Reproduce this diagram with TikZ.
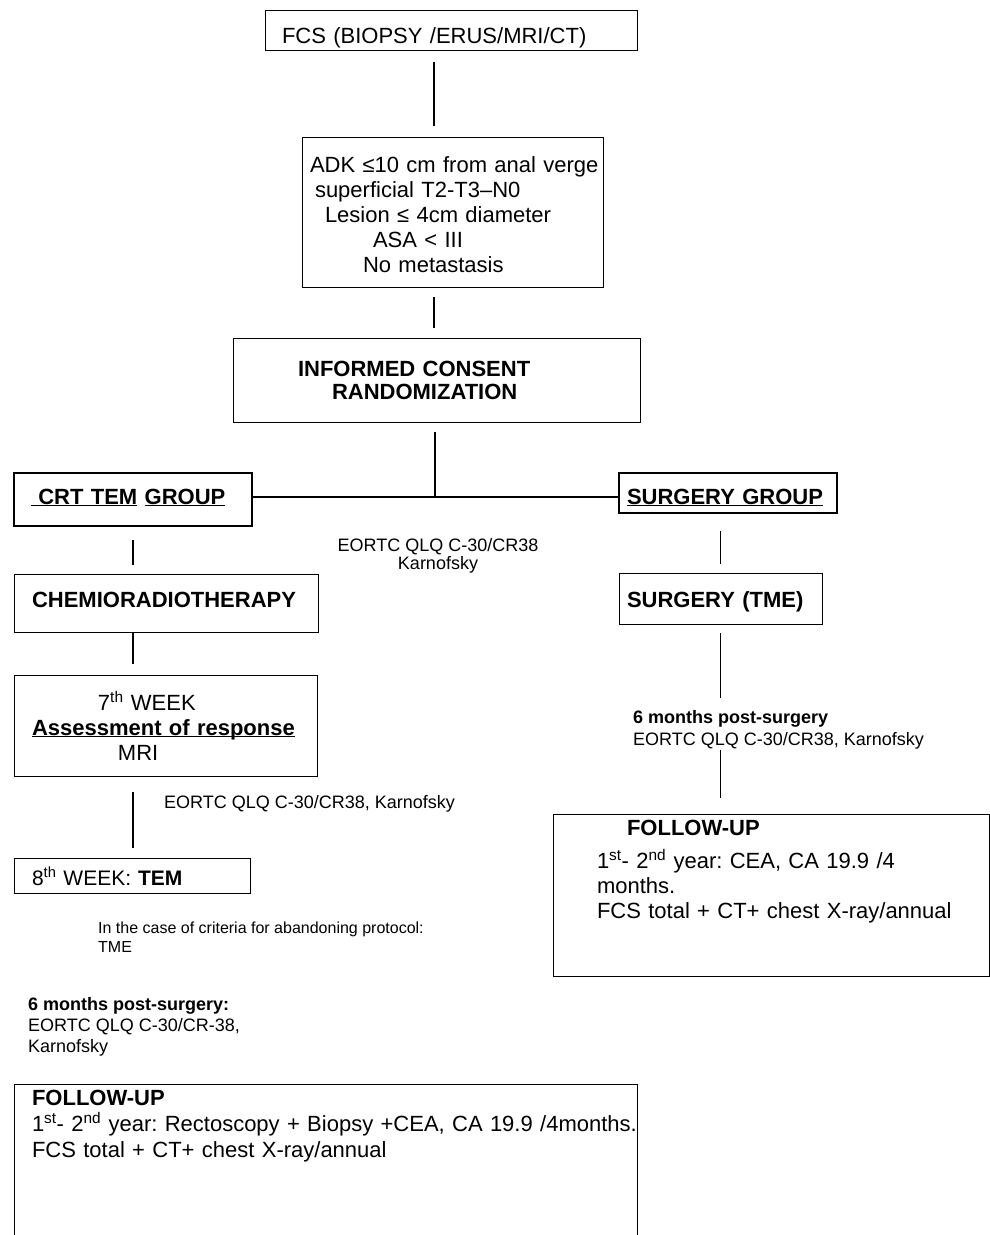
\documentclass[tikz,border=0pt]{standalone}
\usepackage{fontspec}
\setmainfont{Liberation Sans}
\frenchspacing
\newcommand{\lpad}[1]{\hspace*{#1pt}}
\begin{document}
\begin{tikzpicture}[x=1pt,y=-1pt,
  pbox/.style={draw, line width=1pt, anchor=north west, inner sep=0pt, outer sep=0pt, align=left, font=\fontsize{22}{25}\selectfont},
  gbox/.style={pbox, line width=2.5pt, font=\fontsize{22}{25}\selectfont\bfseries},
  note/.style={inner sep=0pt, align=left, anchor=base west, font=\fontsize{18}{21}\selectfont},
  link/.style={line width=1.1pt}]
  \useasboundingbox (0,0) rectangle (989,1235);
  \coordinate (spine) at (434,0);
  \coordinate (split) at (435,497);
  \node[pbox, text width=372pt, text height=33pt, text depth=7pt] (fcs) at (265,10) {\lpad{17}FCS (BIOPSY /ERUS/MRI/CT)};
  \node[pbox, text width=301pt, text height=35pt, text depth=115pt] (crit) at (302,137) {\lpad{8}ADK ≤10 cm from anal verge\\\lpad{13}superficial T2-T3–N0\\\lpad{23}Lesion ≤ 4cm diameter\\\lpad{71}ASA < III\\\lpad{61}No metastasis};
  \node[pbox, font=\fontsize{22}{23}\selectfont\bfseries, text width=407pt, text height=38pt, text depth=46pt] (consent) at (233,338) {\lpad{65}INFORMED CONSENT\\\lpad{99}RANDOMIZATION};
  \node[gbox, text width=238pt, text height=31pt, text depth=22pt] (crt) at (14,473) {\lpad{17}\underline{\ CRT TEM}\ \underline{GROUP}};
  \node[gbox, text width=218pt, text height=31pt, text depth=9pt] (sgroup) at (619,473) {\lpad{8}\underline{SURGERY GROUP}};
  \node[pbox, text width=304pt, text height=33pt, text depth=25pt] (chemo) at (14,574) {\lpad{18}\textbf{CHEMIORADIOTHERAPY}};
  \node[pbox, text width=203pt, text height=34pt, text depth=17pt] (tme) at (619,573) {\lpad{8}\textbf{SURGERY (TME)}};
  \node[pbox, text width=303pt, text height=35pt, text depth=66pt] (week7) at (14,675) {\lpad{84}7\textsuperscript{th} WEEK\\\lpad{18}\underline{\smash{\textbf{Assessment of response}}}\\\lpad{104}MRI};
  \node[pbox, font=\fontsize{21}{24}\selectfont, text width=236pt, text height=27pt, text depth=8pt] (week8) at (14,858) {\lpad{18}8\textsuperscript{th} WEEK: \textbf{TEM}};
  \node[pbox, text width=436pt, text height=21pt, text depth=141pt] (fupr) at (553,814) {\lpad{74}\textbf{FOLLOW-UP}\\[8pt]\lpad{44}1\textsuperscript{st}- 2\textsuperscript{nd} year: CEA, CA 19.9 /4\\\lpad{44}months.\\\lpad{44}FCS total + CT+ chest X-ray/annual};
  \node[pbox, font=\fontsize{22}{26}\selectfont, text width=623pt, text height=21pt, text depth=145pt] (fupl) at (14,1084) {\lpad{18}\textbf{FOLLOW-UP}\\\lpad{18}\mbox{1\textsuperscript{st}- 2\textsuperscript{nd} year: Rectoscopy + Biopsy +CEA, CA 19.9 /4months.}\\\lpad{18}FCS total + CT+ chest X-ray/annual};
  \node[note, align=center, anchor=base, font=\fontsize{18}{18}\selectfont] (midq) at (438,569) {EORTC QLQ C-30/CR38\\Karnofsky};
  \node[note] (lq7) at (164,808) {EORTC QLQ C-30/CR38, Karnofsky};
  \node[note, font=\fontsize{18}{22}\selectfont] (sixr) at (633,745) {\textbf{6 months post-surgery}\\EORTC QLQ C-30/CR38, Karnofsky};
  \node[note, font=\fontsize{16}{19}\selectfont] (abandon) at (98,952) {In the case of criteria for abandoning protocol:\\TME};
  \node[note] (sixl) at (28,1052) {\textbf{6 months post-surgery:}\\EORTC QLQ C-30/CR-38,\\Karnofsky};
  \draw[link, shorten <=12pt, shorten >=11pt] (fcs.south -| spine) -- (crit.north -| spine);
  \draw[link, shorten <=10pt, shorten >=10pt] (crit.south -| spine) -- (consent.north -| spine);
  \draw[link, shorten <=10pt] (consent.south -| split) -- (split);
  \draw[link] (crt.east |- split) -- (sgroup.west |- split);
  \draw[link, shorten <=14pt, shorten >=9pt] (crt.south) -- (crt.south |- chemo.north);
  \draw[link, shorten >=11pt] (chemo.south -| crt.south) -- (crt.south |- week7.north);
  \draw[link, shorten <=16pt, shorten >=10pt] (week7.south -| crt.south) -- (crt.south |- week8.north);
  \draw[link, shorten <=18pt, shorten >=9pt] (sgroup.south -| tme.north) -- (tme.north);
  \draw[link, shorten <=9pt, shorten >=12pt] (tme.south) -- (tme.south |- sixr.north);
  \draw[link, shorten <=1pt, shorten >=16pt] (tme.south |- sixr.south) -- (tme.south |- fupr.north);
\end{tikzpicture}
\end{document}
